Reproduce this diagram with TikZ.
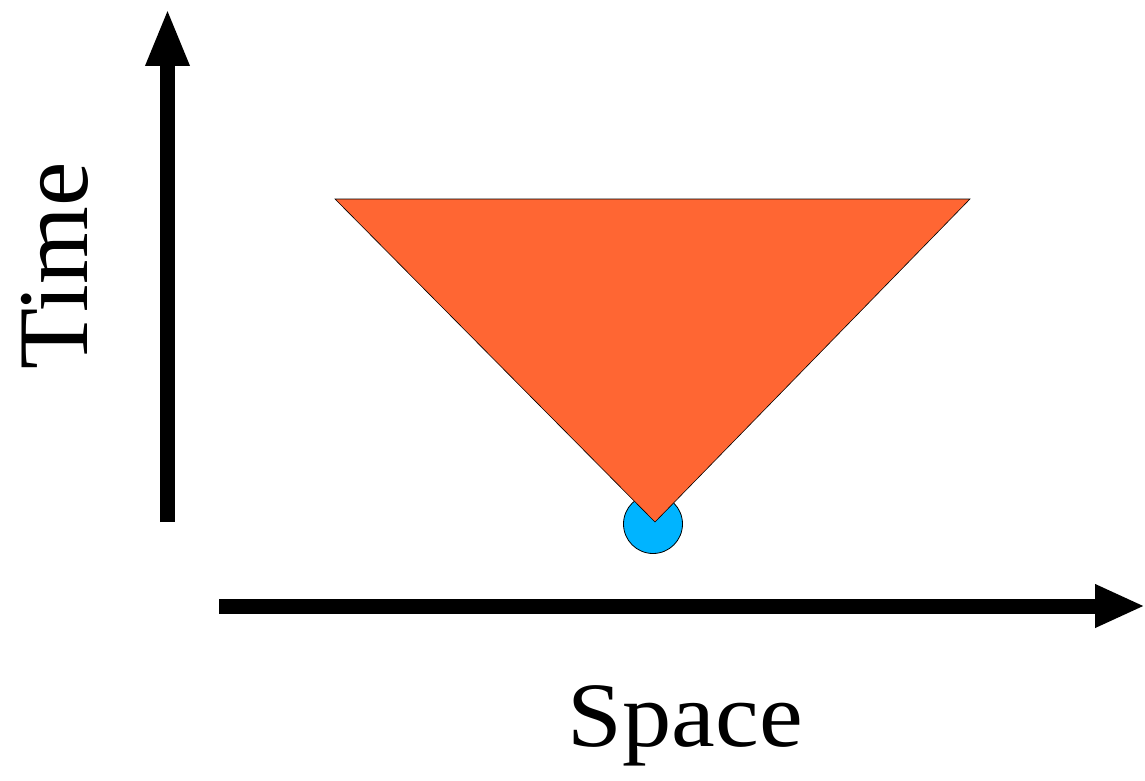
\documentclass[tikz,border=0pt]{standalone}
\usepackage{fontspec}
\setmainfont{Liberation Serif}
\newfontfamily\widefont[FakeStretch=1.07]{Liberation Serif}
\usetikzlibrary{arrows.meta}
\definecolor{conecol}{HTML}{FF6633}
\definecolor{eventcol}{HTML}{00B4FF}

\begin{document}
\begin{tikzpicture}[x=1pt,y=-1pt,>={Triangle[length=58pt,width=40pt]},
  axis/.style={->,line width=15pt},
  axislabel/.style={inner sep=0pt,anchor=base}]
\useasboundingbox (0,0) rectangle (1145,781);
% axes
\coordinate (tbot) at (167.5,522);
\coordinate (ttop) at (167.5,8);
\coordinate (sleft) at (219,606);
\coordinate (sright) at (1145,606);
\draw[axis] (tbot) -- (ttop);
\draw[axis,-{Triangle[length=50pt,width=40pt]}] (sleft) -- (sright);
\node[axislabel,rotate=90,font=\fontsize{100}{110}\selectfont] (time) at (87,266) {Time};
\node[axislabel,font=\widefont\fontsize{92}{100}\selectfont] (space) at (685.5,746) {Space};
% event and its cone
\coordinate (ev) at (653,524);
\draw[fill=eventcol,line width=0.8pt] (ev) circle (29.5);
\draw[fill=conecol,line width=0.6pt] (335,199) -- (970,199) -- (655,522) -- cycle;
\end{tikzpicture}
\end{document}
